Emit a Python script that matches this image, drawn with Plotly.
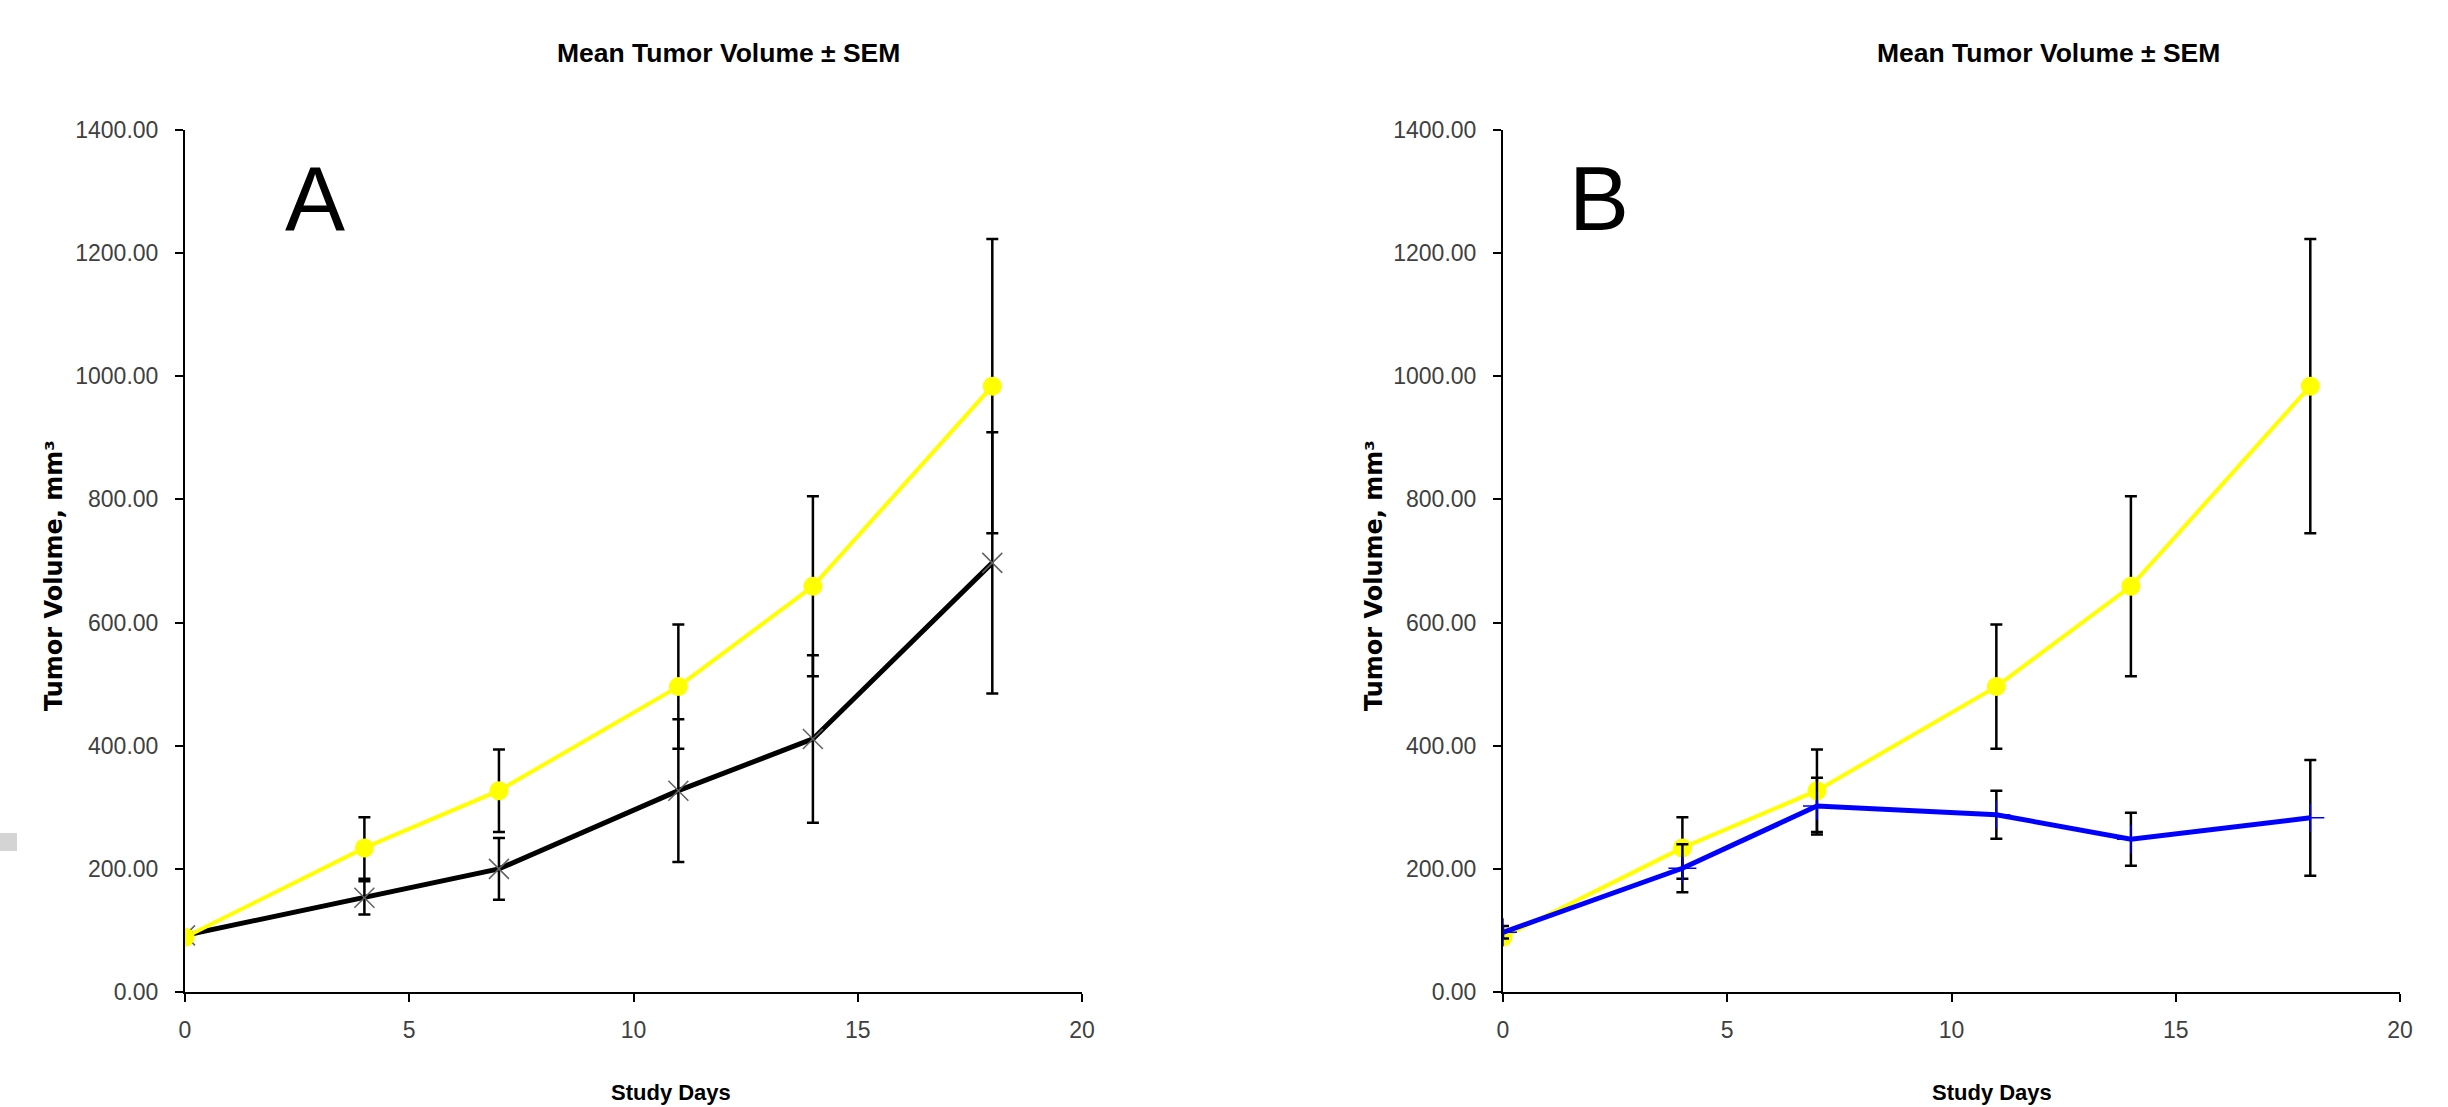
import plotly.graph_objects as go

days = [0, 4, 7, 11, 14, 18]
control_mean = [89, 234, 327, 496, 659, 984]
control_sem = [6, 50, 67, 101, 146, 239]
treatA_mean = [92, 153, 200, 327, 411, 697]
treatA_sem = [6, 27, 50, 116, 136, 212]
treatB_mean = [97, 201, 302, 288, 248, 283]
treatB_sem = [10, 39, 46, 39, 43, 94]

title_text = "Mean Tumor Volume ± SEM"
ytitle_text = "Tumor Volume, mm³"
xtitle_text = "Study Days"

W, H = 2448, 1107
SANS = "Liberation Sans, Arial, sans-serif"

fig = go.Figure()

def err(arr):
    return dict(type="data", array=arr, visible=True, color="black", thickness=2.5, width=6)

# Panel A
fig.add_trace(go.Scatter(x=days, y=treatA_mean, mode="lines+markers", xaxis="x", yaxis="y",
                         line=dict(color="black", width=5),
                         marker=dict(symbol="x-thin", size=20, line=dict(color="#606060", width=1.5)),
                         error_y=err(treatA_sem), showlegend=False))
fig.add_trace(go.Scatter(x=days, y=control_mean, mode="lines+markers", xaxis="x", yaxis="y",
                         line=dict(color="#FFFF00", width=4),
                         marker=dict(symbol="circle", size=19, color="#FFFF00"),
                         error_y=err(control_sem), showlegend=False))
# Panel B
fig.add_trace(go.Scatter(x=days, y=control_mean, mode="lines+markers", xaxis="x2", yaxis="y2",
                         line=dict(color="#FFFF00", width=4),
                         marker=dict(symbol="circle", size=19, color="#FFFF00"),
                         error_y=err(control_sem), showlegend=False))
fig.add_trace(go.Scatter(x=days, y=treatB_mean, mode="lines+markers", xaxis="x2", yaxis="y2",
                         line=dict(color="#0000FF", width=5),
                         marker=dict(symbol="cross-thin", size=20, line=dict(color="#0000FF", width=1.5)),
                         error_y=err(treatB_sem), showlegend=False))

ydom = [1 - 992 / H, 1 - 130 / H]
xdomA = [185 / W, 1082 / W]
xdomB = [1503 / W, 2400 / W]

def xax(dom, anchor):
    return dict(domain=dom, anchor=anchor, range=[0, 20], dtick=5, tick0=0, automargin=False,
                showgrid=False, zeroline=False, showline=True, linecolor="black", linewidth=2,
                ticks="outside", ticklen=8, tickwidth=2, tickcolor="black",
                ticklabelstandoff=8,
                tickfont=dict(family=SANS, size=23, color="#404040"))

def yax(anchor):
    return dict(domain=ydom, anchor=anchor, range=[0, 1400], dtick=200, tick0=0, automargin=False,
                tickformat=".2f",
                showgrid=False, zeroline=False, showline=True, linecolor="black", linewidth=2,
                ticks="outside", ticklen=8, tickwidth=2, tickcolor="black",
                ticklabelstandoff=12,
                tickfont=dict(family=SANS, size=23, color="#404040"))

fig.update_layout(
    width=W, height=H,
    margin=dict(l=0, r=0, t=0, b=0, pad=0, autoexpand=False),
    paper_bgcolor="white", plot_bgcolor="white",
    xaxis=xax(xdomA, "y"), yaxis=yax("x"),
    xaxis2=xax(xdomB, "y2"), yaxis2=yax("x2"),
)

ann = []
for cx in [728, 2048]:
    ann.append(dict(text="<b>" + title_text + "</b>", x=cx / W, y=1 - 53 / H, xref="paper", yref="paper",
                    xanchor="center", yanchor="middle", showarrow=False,
                    font=dict(family=SANS, size=26.5, color="black")))
for cx in [671, 1992]:
    ann.append(dict(text="<b>" + xtitle_text + "</b>", x=cx / W, y=1 - 1078 / H, xref="paper", yref="paper",
                    xanchor="center", yanchor="top", showarrow=False,
                    font=dict(family=SANS, size=22, color="black")))
for cx in [54, 1374]:
    ann.append(dict(text="<b>" + ytitle_text + "</b>", x=cx / W, y=1 - 576 / H, xref="paper", yref="paper",
                    xanchor="center", yanchor="middle", showarrow=False, textangle=-90,
                    font=dict(family="DejaVu Sans", size=24, color="black")))
for lab, cx in [("A", 315), ("B", 1599)]:
    ann.append(dict(text=lab, x=cx / W, y=1 - 199 / H, xref="paper", yref="paper",
                    xanchor="center", yanchor="middle", showarrow=False,
                    font=dict(family=SANS, size=90, color="black")))
fig.update_layout(annotations=ann)

fig.add_shape(type="rect", xref="paper", yref="paper", x0=0, x1=17 / W,
              y0=1 - 851 / H, y1=1 - 833 / H, fillcolor="#d4d4d4", line=dict(width=0))

fig.write_html("out.html",
               config={"displayModeBar": False},
               post_script="document.body.style.margin='0px';document.body.style.overflow='hidden';")
